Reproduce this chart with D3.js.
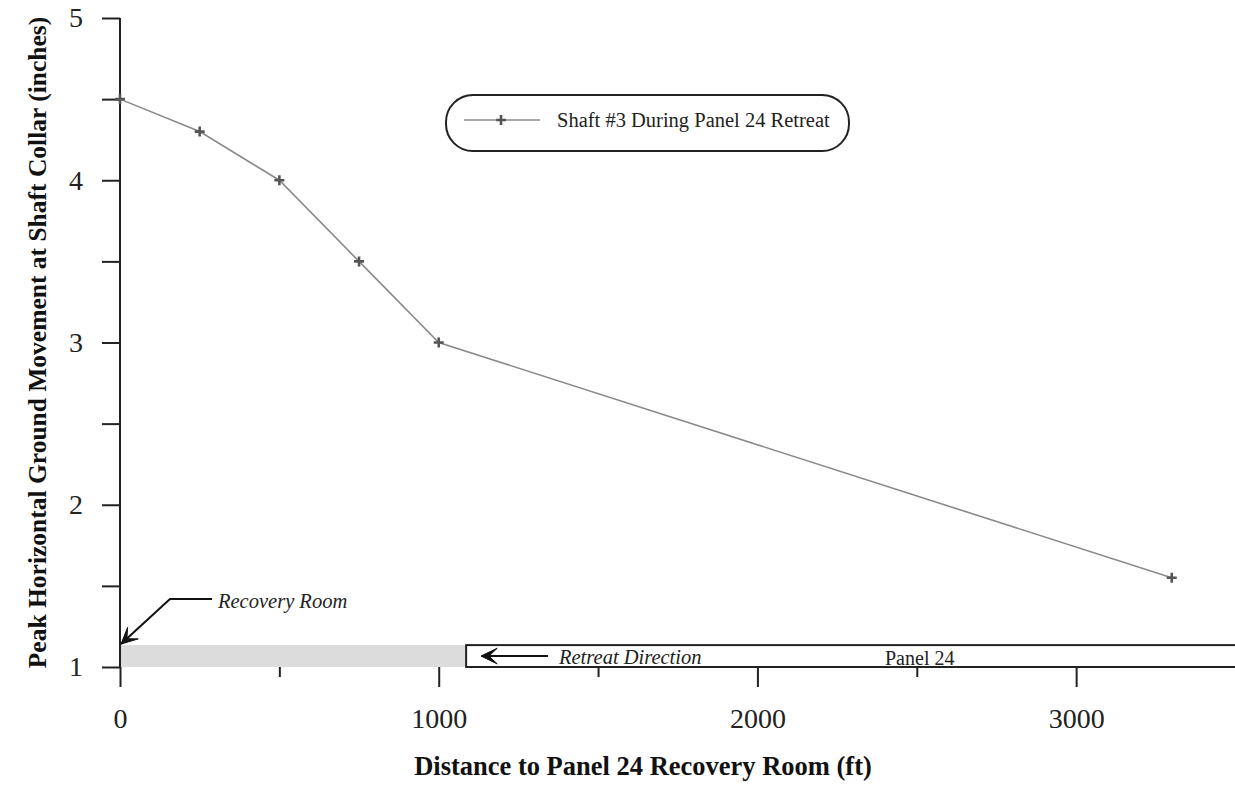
<!DOCTYPE html>
<html>
<head>
<meta charset="utf-8">
<script src="https://cdn.jsdelivr.net/npm/d3@7"></script>
<style>
  body { margin: 0; background: #fff; }
  text { font-family: "Liberation Serif", "Times New Roman", serif; }
</style>
</head>
<body>
<svg width="1235" height="787"></svg>
<script>
// data
const distances = [0, 250, 500, 750, 1000, 3300];
const movement = [4.5, 4.3, 4.0, 3.5, 3.0, 1.55];
const xTicks = [0, 1000, 2000, 3000];
const xMinor = [500, 1500, 2500, 3500];
const yTicks = [1, 2, 3, 4, 5];
const yMinor = [1.5, 2.5, 3.5, 4.5];
const seriesName = 'Shaft #3 During Panel 24 Retreat';
const retreatStart = 1086;   // panel 24 box starts here (ft)
const boxTop = 1.135;        // top of the panel strip (inches)

const svg = d3.select('svg');
const x = d3.scaleLinear().domain([0, 3500]).range([120, 1235.5]);
const y = d3.scaleLinear().domain([1, 5]).range([667, 18]);

// grey recovered strip + panel box
svg.append('rect')
  .attr('x', x(0)).attr('y', y(boxTop))
  .attr('width', x(retreatStart) - x(0)).attr('height', y(1) - y(boxTop))
  .attr('fill', '#dcdcdc');
svg.append('rect')
  .attr('x', x(retreatStart)).attr('y', y(boxTop))
  .attr('width', x(3500) - x(retreatStart) + 5).attr('height', y(1) - y(boxTop))
  .attr('fill', 'none').attr('stroke', '#222').attr('stroke-width', 2);

// axes
const yAxis = svg.append('g').attr('transform', `translate(${x(0)},0)`)
  .call(d3.axisLeft(y).tickValues(yTicks.concat(yMinor)).tickSize(18).tickPadding(19)
    .tickFormat(d => yTicks.includes(d) ? d : ''));
yAxis.selectAll('text').attr('font-size', 28).attr('fill', '#222');
yAxis.selectAll('line, path').attr('stroke', '#222').attr('stroke-width', 2);
yAxis.select('.domain').attr('d', `M0,${y(5)}V${y(1)}`);

const xAxis = svg.append('g').attr('transform', `translate(0,${y(1)})`)
  .call(d3.axisBottom(x).tickValues(xTicks).tickSize(20).tickPadding(21).tickFormat(d => d));
xAxis.select('.domain').remove();
xAxis.selectAll('text').attr('font-size', 28).attr('fill', '#222');
xAxis.selectAll('line').attr('stroke', '#222').attr('stroke-width', 2);
svg.append('g').attr('transform', `translate(0,${y(1)})`)
  .call(d3.axisBottom(x).tickValues(xMinor).tickSize(10).tickFormat(''))
  .call(g => g.select('.domain').remove())
  .selectAll('line').attr('stroke', '#222').attr('stroke-width', 2);

// axis titles
svg.append('text').attr('transform', `translate(37,${(y(5) + y(1)) / 2}) rotate(-90)`)
  .attr('text-anchor', 'middle').attr('dy', '0.35em')
  .attr('font-size', 25.5).attr('font-weight', 'bold').attr('fill', '#111')
  .text('Peak Horizontal Ground Movement at Shaft Collar (inches)');
svg.append('text').attr('x', 643).attr('y', 775)
  .attr('text-anchor', 'middle')
  .attr('font-size', 26.5).attr('font-weight', 'bold').attr('fill', '#111')
  .text('Distance to Panel 24 Recovery Room (ft)');

// series
const pts = distances.map((d, i) => [d, movement[i]]);
svg.append('path').datum(pts)
  .attr('d', d3.line().x(d => x(d[0])).y(d => y(d[1])))
  .attr('fill', 'none').attr('stroke', '#8a8a8a').attr('stroke-width', 1.6);

function plus(g, cx, cy) {
  g.append('path')
    .attr('d', `M${cx - 5},${cy}H${cx + 5}M${cx},${cy - 5}V${cy + 5}`)
    .attr('stroke', '#555').attr('stroke-width', 2.6);
}
const marks = svg.append('g');
pts.forEach(d => plus(marks, x(d[0]), y(d[1])));

// legend
svg.append('rect').attr('x', 446).attr('y', 95).attr('width', 403).attr('height', 56)
  .attr('rx', 27).attr('fill', '#fff').attr('stroke', '#222').attr('stroke-width', 2);
svg.append('line').attr('x1', 464).attr('x2', 540).attr('y1', 120).attr('y2', 120)
  .attr('stroke', '#8a8a8a').attr('stroke-width', 1.6);
plus(svg, 501, 120);
svg.append('text').attr('x', 557).attr('y', 127).attr('font-size', 20.5).attr('fill', '#222')
  .text(seriesName);

// annotations
const arrowHead = (g, tx, ty, ang) => {
  // barbed arrow head pointing at (tx,ty), ang = direction of the shaft away from tip
  const a1 = ang + 0.45, a2 = ang - 0.45, L = 18;
  g.append('path')
    .attr('d', `M${tx + L * Math.cos(a1)},${ty + L * Math.sin(a1)}L${tx},${ty}L${tx + L * Math.cos(a2)},${ty + L * Math.sin(a2)}L${tx + 8 * Math.cos(ang)},${ty + 8 * Math.sin(ang)}Z`)
    .attr('fill', '#111').attr('stroke', '#111').attr('stroke-width', 1);
};
const rx = x(0) + 1, ry = y(boxTop) - 1;
svg.append('path').attr('d', `M${rx},${ry}L170,599H212`)
  .attr('fill', 'none').attr('stroke', '#111').attr('stroke-width', 2);
arrowHead(svg, rx, ry, Math.atan2(599 - ry, 170 - rx));
svg.append('text').attr('x', 218).attr('y', 608).attr('font-size', 20.5)
  .attr('font-style', 'italic').attr('fill', '#222').text('Recovery Room');

const ay = (y(1) + y(boxTop)) / 2;
svg.append('line').attr('x1', 482).attr('x2', 548).attr('y1', ay).attr('y2', ay)
  .attr('stroke', '#111').attr('stroke-width', 2);
arrowHead(svg, 481, ay, 0);
svg.append('text').attr('x', 559).attr('y', 664).attr('font-size', 20.5)
  .attr('font-style', 'italic').attr('fill', '#222').text('Retreat Direction');
svg.append('text').attr('x', 885).attr('y', 665).attr('font-size', 20)
  .attr('fill', '#222').text('Panel 24');
</script>
</body>
</html>
